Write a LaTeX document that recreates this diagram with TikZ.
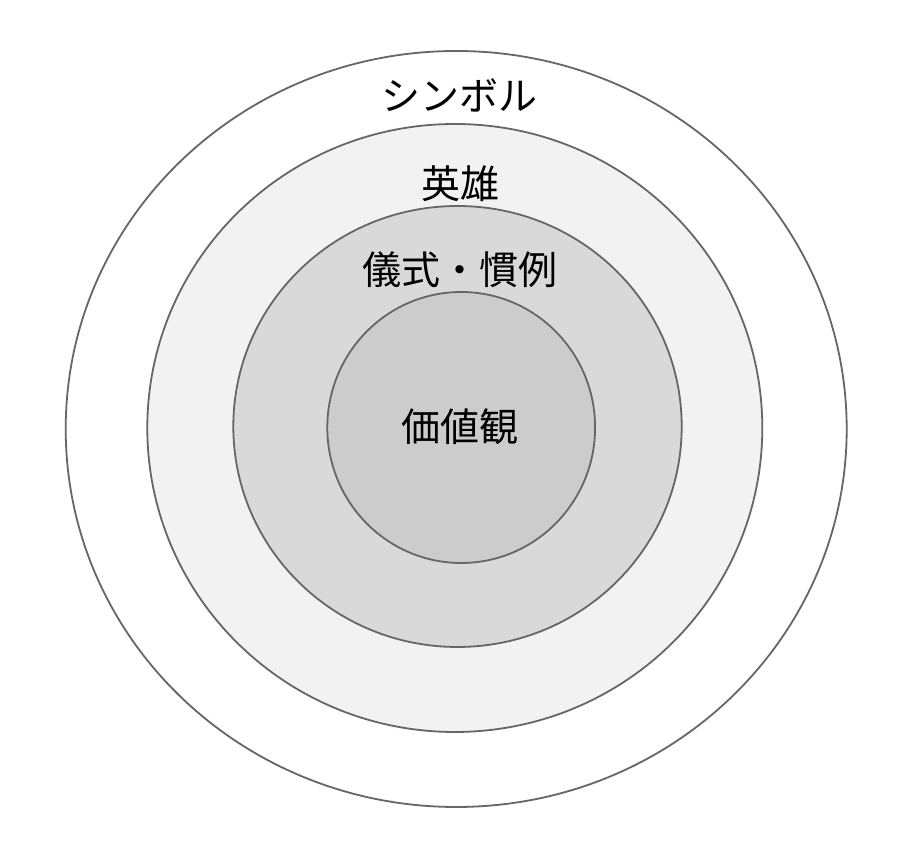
\documentclass[tikz,border=0pt]{standalone}
\usepackage{fontspec}
\newfontfamily\jp{Noto Sans CJK JP}
\definecolor{ringline}{HTML}{666666}
\definecolor{fillB}{HTML}{F2F2F2}
\definecolor{fillC}{HTML}{D9D9D9}
\definecolor{fillD}{HTML}{CCCCCC}
\begin{document}
\begin{tikzpicture}[x=1pt,y=1pt,
  ring/.style={draw=ringline,line width=1.8pt},
  lbl/.style={font=\jp\fontsize{39}{46}\selectfont,text=black,inner sep=0pt}]
\useasboundingbox (0,0) rectangle (918,850);
\fill[white] (0,0) rectangle (918,850);
\draw[ring,fill=white] (456.2,421) ellipse [x radius=390.5,y radius=378];
\draw[ring,fill=fillB] (454.8,422) ellipse [x radius=307.5,y radius=304];
\draw[ring,fill=fillC] (457.5,423.5) ellipse [x radius=224.2,y radius=220.5];
\draw[ring,fill=fillD] (461.2,422.5) ellipse [x radius=133.9,y radius=135.5];
\node[lbl] (symbol) at (459,850-95) {シンボル};
\node[lbl] (hero) at (460,850-184) {英雄};
\node[lbl] (ritual) at (460,850-270) {儀式・慣例};
\node[lbl] (value) at (460,850-427) {価値観};
\end{tikzpicture}
\end{document}
